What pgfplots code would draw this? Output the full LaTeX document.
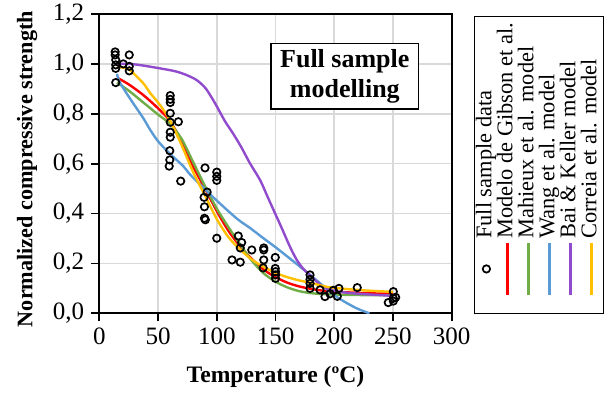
\documentclass[border=0pt]{standalone}
\usepackage{fontspec}
\setmainfont{Liberation Serif}
\usepackage{pgfplots}
\pgfplotsset{compat=1.18}
\definecolor{cRed}{HTML}{FF0000}
\definecolor{cGreen}{HTML}{70AD47}
\definecolor{cBlue}{HTML}{5B9BD5}
\definecolor{cPurple}{HTML}{914BCD}
\definecolor{cYellow}{HTML}{FFC000}
\definecolor{cGrid}{HTML}{D9D9D9}
\pgfplotsset{
  lineleg/.style={legend image code/.code={\path (0pt,0pt) (33pt,0pt);\draw[##1, line width=1.2pt] (7pt,0pt) -- (33pt,0pt);}},
  markleg/.style={legend image code/.code={\path (0pt,0pt) (33pt,0pt);\draw[mark repeat=2,mark phase=2,##1] plot coordinates {(7pt,0pt)(20pt,0pt)(33pt,0pt)};}},
}
\begin{document}
\begin{tikzpicture}
\begin{axis}[
  scale only axis, width=176.2pt, height=149.65pt,
  xmin=0, xmax=300, ymin=0, ymax=1.2,
  xtick={0,50,100,150,200,250,300},
  ytick={0,0.2,0.4,0.6,0.8,1.0,1.2},
  /pgf/number format/assume math mode=true,
  yticklabel style={/pgf/number format/.cd, fixed, fixed zerofill, precision=1, use comma},
  ticklabel style={font=\fontsize{12.5}{14}\selectfont},
  grid=major,
  major grid style={draw=cGrid, line width=0.8pt},
  axis line style={black, line width=0.9pt},
  tick style={black, line width=0.9pt},
  tick align=outside, tick pos=left, major tick length=4pt,
  xlabel={Temperature (ºC)},
  ylabel={Normalized compressive strength},
  every axis x label/.style={at={(axis description cs:0.5,-0.213)}, anchor=center},
  every axis y label/.style={at={(axis description cs:-0.205,0.482)}, rotate=90, anchor=center},
  xlabel style={font=\fontsize{11.8}{14}\selectfont\bfseries},
  ylabel style={font=\fontsize{11.1}{13}\selectfont\bfseries},
  legend to name=mylegend,
  legend style={draw=black, line width=0.7pt, inner xsep=1.75pt, inner ysep=1pt,
    font=\fontsize{11.2}{13}\selectfont, row sep=0.5pt,
    nodes={inner xsep=1.5pt, inner ysep=0pt, text height=7.5pt, text depth=2.5pt}},
  legend cell align=left,
  lineleg,
]
\addplot[only marks, mark=o, mark size=1.85pt, black, line width=0.85pt, markleg]
coordinates {
(13.5,1.048)(13.5,1.036)(14,1.016)(14,0.996)(14,0.982)(14,0.925)
(20.4,1.0)
(25.5,1.036)(25.5,0.99)(25.5,0.972)
(60.4,0.873)(60.4,0.858)(60.4,0.845)(60.4,0.802)(60.4,0.766)(60.4,0.726)(60.4,0.706)(60,0.652)(60,0.615)(59.5,0.590)
(67.3,0.768)
(69.3,0.530)
(90,0.583)
(91.8,0.486)
(89.2,0.465)(89.5,0.427)(89.5,0.381)(90.3,0.375)
(100,0.566)(100,0.549)(100,0.533)(100,0.301)
(118.3,0.31)(121.2,0.284)(120,0.262)
(113,0.214)(120,0.205)
(129.8,0.254)
(140,0.262)(140,0.254)(140,0.214)(139.5,0.182)
(149.8,0.224)(149.8,0.18)(150,0.167)(150,0.154)(150,0.14)
(179.4,0.154)(179.4,0.136)(179.4,0.12)(179.4,0.10)
(187.9,0.094)(192.1,0.067)(196.4,0.078)(199.2,0.092)(202.6,0.068)(204,0.1)
(219.6,0.103)
(246,0.043)(250.3,0.087)(250.3,0.06)(250.3,0.049)(252.3,0.064)
};
\addlegendentry{Full sample data}
\addplot[cRed, line width=1.2pt, smooth, tension=0.5] coordinates {
(15,0.945)(25,0.918)(37.5,0.875)(50,0.822)(60,0.772)(70,0.69)(80,0.587)(90,0.50)(100,0.41)(110,0.33)(120,0.268)(130,0.217)(140,0.175)(150,0.145)(160,0.123)(170,0.108)(180,0.098)(190,0.091)(200,0.087)(225,0.081)(250,0.078)
};
\addlegendentry{Modelo de Gibson et al.}
\addplot[cGreen, line width=1.2pt, smooth, tension=0.5] coordinates {
(15,0.925)(25,0.893)(37.5,0.845)(50,0.797)(60,0.76)(70,0.70)(80,0.605)(90,0.51)(100,0.42)(110,0.345)(120,0.275)(130,0.21)(140,0.16)(150,0.127)(160,0.104)(170,0.089)(180,0.081)(190,0.077)(200,0.075)(225,0.073)(250,0.072)
};
\addlegendentry{Mahieux et al. model}
\addplot[cBlue, line width=1.2pt, smooth, tension=0.5] coordinates {
(15,0.96)(17.6,0.925)(26,0.862)(37.5,0.782)(43,0.738)(50,0.69)(60,0.64)(71.5,0.59)(77.2,0.557)(90,0.497)(100,0.452)(117,0.38)(128.3,0.342)(140,0.30)(150,0.265)(160,0.228)(170.9,0.187)(180,0.152)(190,0.112)(199.2,0.075)(210,0.043)(220,0.018)(230,0)
};
\addlegendentry{Wang et al. model}
\addplot[cPurple, line width=1.2pt, smooth, tension=0.5] coordinates {
(15,1.0)(25,1.0)(35,0.995)(51.7,0.982)(65,0.97)(74.4,0.955)(82.9,0.935)(90,0.905)(95,0.87)(100,0.83)(107,0.77)(114,0.72)(121,0.665)(128.3,0.601)(136.9,0.534)(143,0.47)(149.6,0.401)(155,0.345)(162.3,0.267)(168,0.215)(173.7,0.178)(180,0.15)(187.9,0.115)(195,0.097)(200,0.09)(210,0.083)(225,0.077)(250,0.07)
};
\addlegendentry{Bai \& Keller model}
\addplot[cYellow, line width=1.2pt, smooth, tension=0.5] coordinates {
(15,0.99)(20,0.985)(26,0.975)(37.5,0.922)(43,0.885)(51.7,0.835)(60,0.775)(70,0.675)(80,0.565)(90,0.472)(100,0.378)(110,0.305)(120,0.255)(130,0.215)(140,0.186)(150,0.162)(160,0.145)(170,0.132)(180,0.122)(190,0.11)(200,0.102)(225,0.092)(250,0.086)
};
\addlegendentry{Correia et al. model}
\node[draw=black, line width=0.9pt, fill=white, align=center,
  font=\fontsize{13}{15}\selectfont\bfseries, inner xsep=4.5pt, inner ysep=3pt]
  at (axis cs:209,0.95) {Full sample\\modelling};
\coordinate (SW) at (rel axis cs:0,0);
\coordinate (LEG) at (rel axis cs:1.2475,0.4955);
\end{axis}
\node[rotate=90, anchor=center, inner sep=0pt] at (LEG) {\pgfplotslegendfromname{mylegend}};
\pgfresetboundingbox
\path[use as bounding box] (SW) ++(-49.65pt,-41.35pt) rectangle ++(304pt,198pt);
\end{tikzpicture}
\end{document}
